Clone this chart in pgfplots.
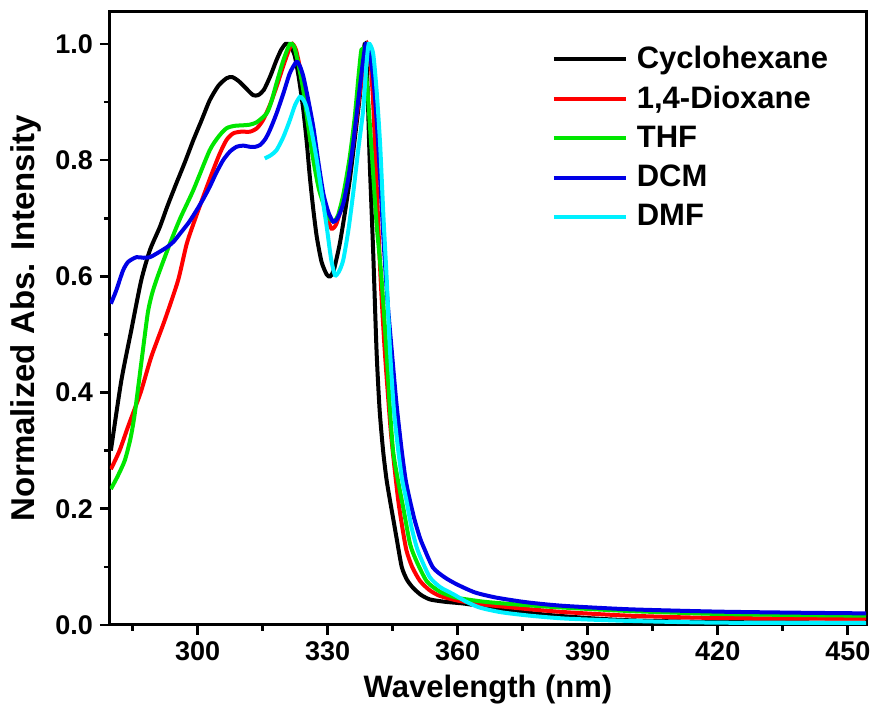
\documentclass[border=0pt]{standalone}
\usepackage{pgfplots}
\pgfplotsset{compat=1.18}
\usepackage{fontspec}
\setmainfont{Liberation Sans}
\definecolor{cRed}{RGB}{255,0,0}
\definecolor{cGreen}{RGB}{0,230,0}
\definecolor{cBlue}{RGB}{0,0,230}
\definecolor{cCyan}{RGB}{0,240,255}
\begin{document}
\begin{tikzpicture}
\begin{axis}[
  scale only axis,
  width=378pt, height=306.5pt,
  xmin=279.8, xmax=454.2, ymin=0, ymax=1.055,
  xtick={300,330,...,450}, minor xtick={285,315,...,450},
  ytick={0,0.2,...,1.01}, minor ytick={0.1,0.3,...,0.95},
  xtick pos=bottom, ytick pos=left,
  tick align=outside,
  major tick length=5pt, minor tick length=3pt,
  every tick/.style={black, line width=1.3pt},
  axis line style={line width=1.5pt},
  /pgf/number format/assume math mode=true,
  yticklabel style={/pgf/number format/fixed, /pgf/number format/fixed zerofill, /pgf/number format/precision=1},
  tick label style={font=\bfseries\fontsize{13.5}{15}\selectfont},
  xlabel={Wavelength (nm)},
  ylabel={Normalized Abs. Intensity},
  xlabel style={font=\bfseries\fontsize{15.5}{18}\selectfont},
  ylabel style={font=\bfseries\fontsize{16.5}{19}\selectfont},
  legend cell align=left,
  legend style={draw=none, fill=none, at={(0.576,0.958)}, anchor=north west,
    font=\bfseries\fontsize{15.5}{18}\selectfont, row sep=3.3pt},
  legend image code/.code={\draw[#1] (0pt,0pt) -- (36pt,0pt); \path (38.5pt,0pt);},
  every axis plot/.append style={line width=2pt, smooth, tension=0.4},
]
\coordinate (bl) at (rel axis cs:0,0);
\coordinate (tr) at (rel axis cs:1,1);
% Cyclohexane
\addplot[black] coordinates {
(280,0.30) (282.4,0.42) (284.7,0.507) (287,0.593) (289,0.645) (291.3,0.685) (293,0.72) (295.1,0.76) (297,0.795) (299,0.834) (301,0.87) (302.8,0.903) (304.8,0.928) (306.7,0.941) (308,0.943) (309.5,0.936) (311,0.925) (312.8,0.912) (314,0.912) (315.3,0.921) (316.8,0.945) (318.2,0.972) (319.3,0.99) (320.3,1.0) (321.3,0.998) (322.4,0.98) (323.4,0.94) (324.4,0.886) (325.2,0.83) (325.9,0.771) (326.7,0.715) (327.5,0.668) (328.6,0.625) (329.8,0.603) (330.6,0.600) (331.4,0.61) (332.2,0.635) (332.9,0.66) (334,0.71) (335.2,0.771) (336.4,0.845) (337.5,0.915) (338.1,0.97) (338.6,1.0) (339.1,0.95) (339.7,0.80) (340.5,0.645) (341.3,0.47) (342,0.37) (342.8,0.30) (343.6,0.25) (344.4,0.214) (345.2,0.18) (345.9,0.15) (347.1,0.10) (348.3,0.078) (349.7,0.064) (351.5,0.052) (353.6,0.044) (357,0.040) (361.3,0.037) (365,0.033) (370,0.027) (380,0.018) (390,0.012) (400,0.008) (420,0.005) (454.2,0.004)
};
\addlegendentry{Cyclohexane}
% 1,4-Dioxane
\addplot[cRed] coordinates {
(280,0.268) (282,0.30) (283.9,0.34) (285.5,0.372) (287,0.403) (289.3,0.461) (292.4,0.524) (295.5,0.593) (297.5,0.656) (299.5,0.70) (301.3,0.737) (303.2,0.775) (305.1,0.811) (306.7,0.835) (308.2,0.846) (310,0.849) (312.1,0.849) (313.7,0.855) (315.1,0.869) (316.7,0.895) (318.2,0.926) (319.9,0.965) (321.2,0.992) (321.9,1.0) (322.7,0.99) (323.6,0.96) (324.4,0.93) (325.5,0.885) (326.7,0.84) (327.8,0.785) (329,0.735) (330,0.70) (330.9,0.682) (332,0.69) (333.6,0.73) (334.8,0.78) (335.9,0.83) (337.5,0.92) (338.6,0.98) (339.2,1.0) (339.8,0.98) (340.5,0.90) (341.3,0.76) (342.2,0.60) (343.2,0.47) (344.5,0.34) (345.3,0.28) (346.3,0.214) (347.3,0.165) (348.2,0.128) (349.5,0.10) (351.3,0.076) (353.5,0.06) (355.9,0.05) (360,0.042) (365.1,0.036) (370,0.032) (376.7,0.027) (385,0.022) (399.7,0.016) (420,0.012) (454.2,0.011)
};
\addlegendentry{1,4-Dioxane}
% THF
\addplot[cGreen] coordinates {
(280,0.234) (281.5,0.255) (283.2,0.283) (284.5,0.32) (285.5,0.363) (287,0.45) (288.5,0.536) (289.5,0.57) (290.8,0.60) (293.6,0.656) (296,0.70) (299,0.748) (302.8,0.817) (305,0.842) (306.7,0.855) (308.5,0.859) (310.5,0.86) (312,0.861) (313.6,0.865) (315.9,0.88) (317,0.90) (318.2,0.932) (319.8,0.972) (321.3,1.0) (322.3,0.995) (323.4,0.96) (324.4,0.92) (325.5,0.86) (326.7,0.80) (328,0.75) (329.5,0.715) (330.6,0.698) (331.5,0.695) (332.4,0.705) (333.6,0.74) (335,0.80) (336.2,0.87) (337.2,0.95) (337.8,0.99) (338.4,0.985) (339.2,0.92) (340.3,0.80) (341.3,0.69) (342.4,0.60) (343.6,0.47) (344.3,0.38) (345.1,0.30) (346.2,0.25) (347.5,0.20) (349,0.14) (350.5,0.11) (352.9,0.075) (356,0.057) (359.8,0.047) (365,0.041) (369,0.038) (376,0.034) (384.3,0.030) (399.7,0.024) (420,0.019) (440,0.017) (454.2,0.016)
};
\addlegendentry{THF}
% DCM
\addplot[cBlue] coordinates {
(280,0.553) (281.2,0.575) (282.8,0.61) (284,0.625) (285.9,0.633) (287.5,0.632) (289,0.633) (290.5,0.639) (292.9,0.65) (294.5,0.66) (296,0.674) (298,0.693) (299.8,0.714) (301.3,0.733) (302.8,0.754) (304.3,0.778) (305.9,0.80) (307.5,0.815) (309,0.823) (310.5,0.825) (312.1,0.823) (313.3,0.823) (314.4,0.826) (315.6,0.836) (316.7,0.852) (318.2,0.88) (319.8,0.915) (321.3,0.95) (322.8,0.969) (323.6,0.962) (324.4,0.944) (325.5,0.905) (326.7,0.857) (327.8,0.80) (329,0.743) (330.2,0.71) (331.3,0.694) (332.3,0.70) (333.6,0.725) (334.8,0.77) (335.9,0.829) (337.1,0.905) (338.2,0.972) (338.8,1.0) (339.5,0.99) (340.5,0.944) (341.3,0.87) (342.1,0.771) (343,0.65) (343.9,0.55) (344.8,0.472) (345.9,0.38) (347.1,0.30) (348,0.25) (349,0.214) (350.1,0.18) (351.3,0.15) (352.1,0.135) (354.3,0.099) (357,0.082) (359.8,0.07) (364,0.056) (369,0.047) (376,0.039) (384.3,0.033) (399.7,0.027) (420,0.023) (440,0.021) (454.2,0.020)
};
\addlegendentry{DCM}
% DMF
\addplot[cCyan] coordinates {
(315.5,0.803) (316.8,0.808) (318.2,0.817) (319.8,0.84) (321.3,0.869) (322.5,0.895) (323.6,0.909) (324.3,0.905) (325.1,0.892) (326.3,0.85) (327.5,0.80) (328.7,0.74) (329.8,0.685) (330.8,0.63) (331.7,0.602) (332.6,0.608) (333.6,0.628) (334.8,0.68) (335.9,0.743) (337.1,0.82) (338.2,0.886) (338.9,0.96) (339.5,1.0) (340.5,0.984) (341.3,0.92) (342.1,0.829) (342.9,0.70) (343.6,0.60) (344.4,0.472) (345.3,0.37) (346.3,0.30) (347.2,0.25) (348.2,0.214) (349.3,0.17) (350.5,0.135) (351.5,0.115) (353.6,0.082) (356,0.065) (359,0.053) (362,0.04) (365.1,0.03) (370,0.022) (376.7,0.016) (385,0.011) (399.7,0.007) (420,0.004) (454.2,0.003)
};
\addlegendentry{DMF}
\end{axis}
\pgfresetboundingbox
\path ([shift={(-55pt,-43pt)}]bl) rectangle ([shift={(4pt,6pt)}]tr);
\end{tikzpicture}
\end{document}
